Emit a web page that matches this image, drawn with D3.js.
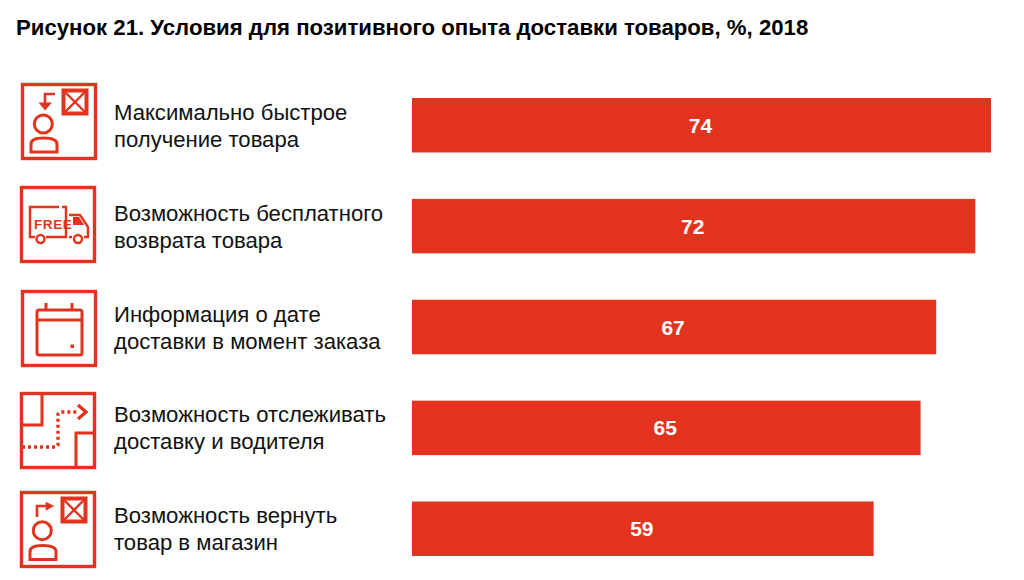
<!DOCTYPE html>
<html>
<head>
<meta charset="utf-8">
<script src="https://cdn.jsdelivr.net/npm/d3@7"></script>
<style>
  html, body { margin: 0; padding: 0; background: #fff; }
  text { font-family: "Liberation Sans", Arial, sans-serif; }
</style>
</head>
<body>
<div id="chart"></div>
<script>
const titleText = "Рисунок 21. Условия для позитивного опыта доставки товаров, %, 2018";
const labelLine1 = ["Максимально быстрое", "Возможность бесплатного", "Информация о дате", "Возможность отслеживать", "Возможность вернуть"];
const labelLine2 = ["получение товара", "возврата товара", "доставки в момент заказа", "доставку и водителя", "товар в магазин"];
const values = [74, 72, 67, 65, 59];
const iconNames = ["person", "truck", "calendar", "map", "return"];

const RED = "#e2331e";
const width = 1024, height = 580;

// icon boxes are not evenly spaced in the original, so placed by hand
const iconX = [21, 20, 21, 20, 20];
const iconY = [83, 186, 290, 392, 491];

var svg = d3.select("#chart").append("svg")
  .attr("width", width)
  .attr("height", height)
  .style("display", "block");

svg.append("text")
  .attr("x", 16)
  .attr("y", 35)
  .attr("font-size", 22.2)
  .attr("font-weight", "bold")
  .attr("fill", "#000")
  .text(titleText);

var x = d3.scaleLinear().domain([0, 74]).range([412, 991]);
var y = d3.scaleBand().domain(d3.range(values.length)).range([98, 556]).paddingInner(0.46).paddingOuter(0);

svg.selectAll("rect.bar")
  .data(values)
  .enter()
  .append("rect")
  .attr("class", "bar")
  .attr("x", x(0))
  .attr("y", function (d, i) { return y(i); })
  .attr("width", function (d) { return x(d) - x(0); })
  .attr("height", y.bandwidth())
  .attr("fill", RED);

svg.selectAll("text.value")
  .data(values)
  .enter()
  .append("text")
  .attr("class", "value")
  .attr("x", function (d) { return x(0) + (x(d) - x(0)) / 2 - 1; })
  .attr("y", function (d, i) { return y(i) + y.bandwidth() / 2 + 7.5; })
  .attr("text-anchor", "middle")
  .attr("font-size", 21)
  .attr("font-weight", "bold")
  .attr("fill", "#fff")
  .text(function (d) { return d; });

// two-line category labels
var labels = svg.selectAll("g.label")
  .data(values)
  .enter()
  .append("g")
  .attr("class", "label")
  .attr("transform", function (d, i) { return "translate(114," + (y(i) + y.bandwidth() / 2) + ")"; });

labels.append("text")
  .attr("y", -5.5)
  .attr("font-size", 22.1)
  .attr("fill", "#111")
  .text(function (d, i) { return labelLine1[i]; });

labels.append("text")
  .attr("y", 21.5)
  .attr("font-size", 22.1)
  .attr("fill", "#111")
  .text(function (d, i) { return labelLine2[i]; });

// Helpers for the pictograms, local coords inside a 76px box
function line(g, pts, sw, dash) {
  var p = g.append("path")
    .attr("d", d3.line()(pts))
    .attr("fill", "none")
    .attr("stroke", RED)
    .attr("stroke-width", sw || 3);
  if (dash) p.attr("stroke-dasharray", dash);
  return p;
}
function poly(g, pts) {
  g.append("path").attr("d", d3.line()(pts) + "Z").attr("fill", RED);
}
function box(g, bx, by, w, h, sw) {
  g.append("rect").attr("x", bx).attr("y", by).attr("width", w).attr("height", h)
    .attr("fill", "none").attr("stroke", RED).attr("stroke-width", sw || 3);
}
function personAndParcel(g, cy, by) {
  // parcel
  box(g, 42.5, 7.5, 23, 23, 4);
  line(g, [[44, 9], [64, 29]], 2.4);
  line(g, [[64, 9], [44, 29]], 2.4);
  // person
  g.append("circle").attr("cx", 22.3).attr("cy", cy).attr("r", 9)
    .attr("fill", "none").attr("stroke", RED).attr("stroke-width", 3);
  g.append("path")
    .attr("d", "M10," + (by + 14) + "V" + (by + 6) + "Q10," + by + " 22.5," + by + "Q36," + by + " 36," + (by + 6) + "V" + (by + 14) + "Z")
    .attr("fill", "none").attr("stroke", RED).attr("stroke-width", 3);
}

var iconDraw = {
  person: function (g) {
    personAndParcel(g, 41, 55);
    line(g, [[34, 11], [24, 11], [24, 21]], 2.6);
    poly(g, [[17.5, 19.5], [31, 19.5], [24, 27.5]]);
  },
  truck: function (g) {
    line(g, [[39, 21], [10, 21], [10, 51], [15, 51]], 2.4);
    line(g, [[26, 51], [46, 51], [46, 21], [42, 21]], 2.4);
    g.append("text").attr("x", 14).attr("y", 42.5).attr("font-size", 13.5).attr("font-weight", "bold")
      .attr("letter-spacing", 0.6).attr("fill", RED).text("FREE");
    g.append("path").attr("d", "M49,29H60L68,41V51H64M52,51H49Z")
      .attr("fill", "none").attr("stroke", RED).attr("stroke-width", 2.4);
    poly(g, [[53, 31], [59, 31], [64, 39], [53, 39]]);
    g.append("circle").attr("cx", 20.5).attr("cy", 53).attr("r", 4)
      .attr("fill", "#fff").attr("stroke", RED).attr("stroke-width", 2.4);
    g.append("circle").attr("cx", 58).attr("cy", 53).attr("r", 4)
      .attr("fill", "#fff").attr("stroke", RED).attr("stroke-width", 2.4);
  },
  calendar: function (g) {
    g.append("rect").attr("x", 16).attr("y", 20).attr("width", 45).attr("height", 45).attr("rx", 2)
      .attr("fill", "none").attr("stroke", RED).attr("stroke-width", 3);
    line(g, [[16, 30], [61, 30]]);
    line(g, [[25, 13], [25, 20]]);
    line(g, [[51, 13], [51, 20]]);
    g.append("rect").attr("x", 49.5).attr("y", 54.5).attr("width", 3.5).attr("height", 3.5).attr("fill", RED);
  },
  map: function (g) {
    line(g, [[22, 1], [22, 33], [1, 33]]);
    line(g, [[76, 41], [56, 41], [56, 75]]);
    line(g, [[2, 55], [36, 55], [38, 53], [38, 22], [40, 20], [58, 20]], 3.4, "3 3");
    line(g, [[58, 13], [66, 20], [58, 27]], 3.4);
  },
  "return": function (g) {
    personAndParcel(g, 39.7, 54.5);
    line(g, [[17, 26], [17, 15], [27, 15]], 2.6);
    poly(g, [[25.7, 10.7], [34.3, 15], [25.7, 19.7]]);
  }
};

var icons = svg.selectAll("g.icon")
  .data(iconNames)
  .enter()
  .append("g")
  .attr("class", "icon")
  .attr("transform", function (d, i) { return "translate(" + iconX[i] + "," + iconY[i] + ")"; });

icons.append("rect")
  .attr("x", 1.5).attr("y", 1.5)
  .attr("width", 73).attr("height", 74)
  .attr("fill", "none")
  .attr("stroke", RED)
  .attr("stroke-width", 3.4);

icons.each(function (d) { iconDraw[d](d3.select(this)); });
</script>
</body>
</html>
